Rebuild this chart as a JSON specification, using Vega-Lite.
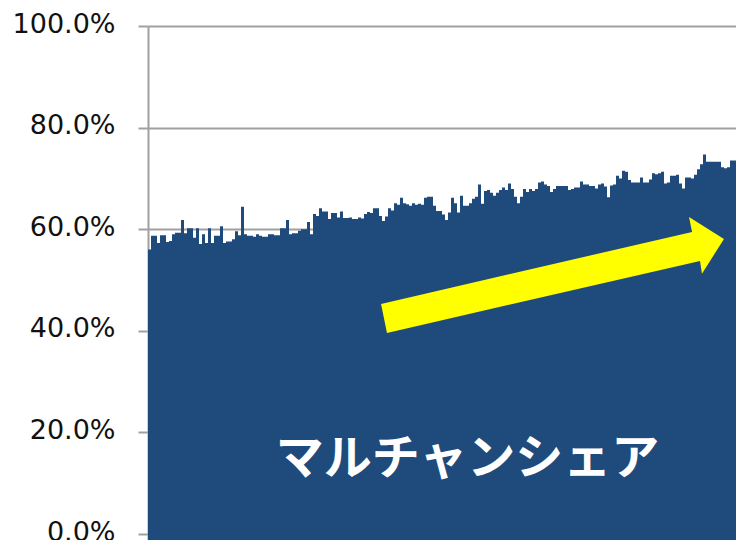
{
  "$schema": "https://vega.github.io/schema/vega-lite/v6.json",
  "autosize": "none",
  "padding": {"left": 148, "top": 26, "right": 0, "bottom": 0},
  "width": 588,
  "height": 514,
  "background": "white",
  "config": {"view": {"stroke": null}},
  "datasets": {
    "share": [0.56,0.587,0.587,0.573,0.588,0.588,0.575,0.577,0.59,0.593,
0.593,0.618,0.592,0.602,0.602,0.583,0.602,0.571,0.59,0.573,
0.602,0.573,0.587,0.587,0.606,0.573,0.576,0.576,0.58,0.596,
0.588,0.644,0.59,0.587,0.587,0.585,0.59,0.587,0.585,0.585,
0.59,0.59,0.588,0.588,0.602,0.602,0.618,0.59,0.592,0.592,
0.597,0.6,0.6,0.614,0.59,0.63,0.626,0.641,0.635,0.635,
0.62,0.632,0.632,0.623,0.635,0.622,0.622,0.623,0.62,0.62,
0.623,0.621,0.63,0.634,0.632,0.641,0.641,0.626,0.616,0.625,
0.641,0.637,0.651,0.648,0.662,0.651,0.649,0.646,0.651,0.648,
0.65,0.648,0.662,0.664,0.664,0.646,0.636,0.636,0.629,0.618,
0.633,0.662,0.651,0.633,0.666,0.646,0.646,0.651,0.66,0.664,
0.688,0.65,0.675,0.677,0.672,0.666,0.672,0.677,0.682,0.677,
0.69,0.679,0.664,0.651,0.664,0.679,0.673,0.679,0.675,0.679,
0.692,0.694,0.688,0.685,0.673,0.679,0.685,0.685,0.685,0.685,
0.677,0.679,0.682,0.682,0.694,0.688,0.688,0.685,0.685,0.68,
0.688,0.69,0.684,0.663,0.686,0.688,0.705,0.7,0.715,0.713,
0.697,0.692,0.692,0.692,0.702,0.692,0.692,0.698,0.71,0.708,
0.71,0.713,0.69,0.692,0.705,0.705,0.707,0.69,0.68,0.702,
0.702,0.7,0.707,0.718,0.728,0.747,0.733,0.733,0.733,0.733,
0.733,0.722,0.72,0.722,0.735,0.735],
    "notes": [
      {"i": 134, "v": 0.51, "kind": "arrow"},
      {"i": 106, "v": 0.146, "kind": "label", "label": "マルチャンシェア"}
    ]
  },
  "layer": [
    {
      "data": {"name": "share"},
      "transform": [{"window": [{"op": "row_number", "as": "n"}]}, {"calculate": "datum.n - 1", "as": "i"}],
      "mark": {"type": "bar", "color": "#1f4a7c", "strokeWidth": 0},
      "encoding": {
        "x": {"field": "i", "type": "ordinal", "axis": null, "scale": {"paddingInner": 0, "paddingOuter": 0}},
        "y": {"field": "data", "type": "quantitative",
          "scale": {"domain": [-0.0118, 1], "nice": false, "zero": false},
          "axis": {"values": [0, 0.2, 0.4, 0.6, 0.8, 1], "format": ".1%", "title": null,
            "domainColor": "#a0a0a0", "domainWidth": 2, "tickColor": "#a0a0a0", "tickWidth": 2, "tickSize": 10,
            "gridColor": "#a0a0a0", "gridWidth": 2, "grid": true,
            "labelFont": "DejaVu Sans", "labelFontSize": 27, "labelColor": "#111111", "labelPadding": 23, "labelOffset": -2}},
        "y2": {"datum": -0.0118}
      }
    },
    {
      "data": {"name": "notes"},
      "transform": [{"filter": "datum.kind === 'arrow'"}],
      "mark": {"type": "point", "shape": "M-0.947,0.161L0.781,-0.239L0.764,-0.322L0.958,-0.2L0.836,-0.006L0.825,-0.078L-0.914,0.322Z",
        "size": 129600, "filled": true, "fill": "#ffff00", "opacity": 1, "strokeWidth": 0},
      "encoding": {
        "x": {"field": "i", "type": "ordinal"},
        "y": {"field": "v", "type": "quantitative"}
      }
    },
    {
      "data": {"name": "notes"},
      "transform": [{"filter": "datum.kind === 'label'"}],
      "mark": {"type": "text", "font": "Noto Sans CJK JP", "fontWeight": "bold", "fontSize": 48, "color": "#ffffff", "align": "center", "baseline": "middle"},
      "encoding": {
        "x": {"field": "i", "type": "ordinal"},
        "y": {"field": "v", "type": "quantitative"},
        "text": {"field": "label"}
      }
    }
  ]
}
